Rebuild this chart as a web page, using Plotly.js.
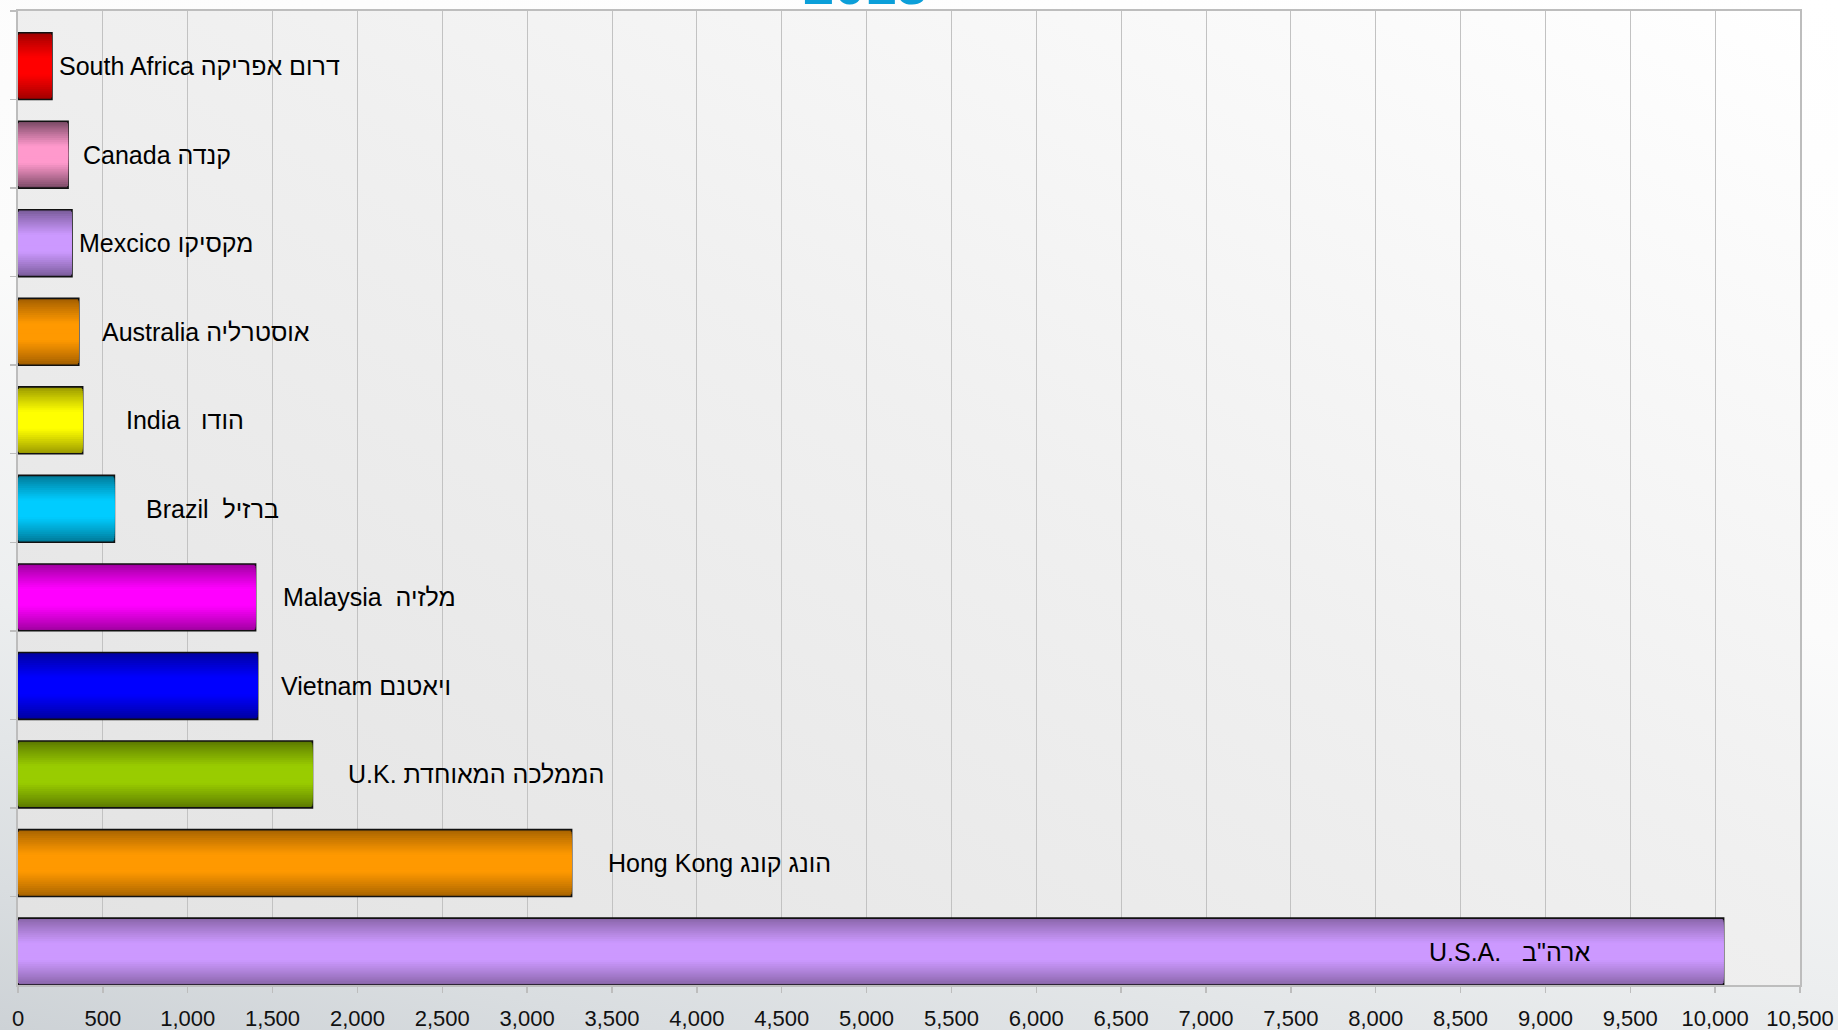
<!DOCTYPE html>
<html>
<head>
<meta charset="utf-8">
<script src="https://cdn.plot.ly/plotly-3.0.1.min.js"></script>
<style>
  html, body { margin: 0; padding: 0; }
  #chart {
    width: 1838px; height: 1030px;
    background: linear-gradient(12deg, #cdd2d6 0%, #d9dde0 10%, #eceeef 30%, #fbfbfb 55%, #ffffff 100%);
  }
</style>
</head>
<body>
<div id="chart"></div>
<script>
// ---- data ----
const titleText = '2013';
const categories = ['South Africa', 'Canada', 'Mexcico', 'Australia', 'India', 'Brazil',
                    'Malaysia', 'Vietnam', 'U.K.', 'Hong Kong', 'U.S.A.'];
const values = [200, 295, 318, 358, 381, 568, 1400, 1412, 1735, 3262, 10050];
const labels = [
  'South Africa דרום אפריקה',
  'Canada קנדה',
  'Mexcico מקסיקו',
  'Australia אוסטרליה',
  'India\u00a0\u00a0\u00a0הודו',
  'Brazil\u00a0\u00a0ברזיל',
  'Malaysia\u00a0\u00a0מלזיה',
  'Vietnam ויאטנם',
  'U.K. הממלכה המאוחדת',
  'Hong Kong הונג קונג',
  'U.S.A.\u00a0\u00a0\u00a0ארה"ב'
];
const tickVals = [0,500,1000,1500,2000,2500,3000,3500,4000,4500,5000,5500,6000,6500,7000,7500,8000,8500,9000,9500,10000,10500];

// ---- styles ----
const midColors  = ['#ff0000','#ff99cc','#cc99ff','#ff9900','#ffff00','#00ccff','#ff00ff','#0000ff','#99cc00','#ff9900','#cc99ff'];
const edgeColors = ['#a00000','#7a4a66','#7a5c9a','#a35f00','#9a9a00','#007a99','#a000a0','#0000a0','#5c7a00','#a86400','#8a66aa'];
const labelShift = [5, 13, 5, 21, 41, 30, 25, 21, 34, 34, -132];
const labelInside = [false,false,false,false,false,false,false,false,false,false,true];

function hex2rgb(h){ return [parseInt(h.slice(1,3),16), parseInt(h.slice(3,5),16), parseInt(h.slice(5,7),16)]; }
function mix(a, b, t){
  const A = hex2rgb(a), B = hex2rgb(b);
  return 'rgb(' + A.map((v,i)=>Math.round(v + (B[i]-v)*t)).join(',') + ')';
}

const margin = { l: 18, r: 38, t: 11, b: 45 };
const H = 1030;
const W = 0.755;            // bar thickness (category units)
const barCenterOff = 0.5 - W / 2;  // bars sit at the bottom of each category slot
const N = 16;
const traces = [];
for (let k = 0; k < N; k++) {
  const t = Math.min(1, Math.pow(k / (N * 0.72), 0.9));
  const wk = W * (1 - k / N);
  traces.push({
    type: 'bar',
    orientation: 'h',
    y: categories,
    x: values,
    width: wk,
    offset: barCenterOff - wk / 2,
    marker: {
      color: categories.map((c, i) => mix(edgeColors[i], midColors[i], t)),
      line: { color: k === 0 ? '#111111' : 'rgba(0,0,0,0)', width: k === 0 ? 1.6 : 0 }
    },
    hoverinfo: 'skip',
    showlegend: false
  });
}

const slotPx = (H - margin.t - margin.b) / categories.length;
const annotations = categories.map((c, i) => ({
  x: values[i], y: c, xref: 'x', yref: 'y',
  text: labels[i],
  showarrow: false,
  xanchor: labelInside[i] ? 'right' : 'left',
  yanchor: 'middle',
  xshift: labelShift[i],
  yshift: -barCenterOff * slotPx,
  font: { family: 'Liberation Sans, Arial, sans-serif', size: 25, color: '#000000' }
}));
annotations.push({
  text: '<b>' + titleText + '</b>',
  xref: 'paper', yref: 'paper', x: 0.4755, y: 1,
  xanchor: 'center', yanchor: 'bottom', yshift: -7,
  showarrow: false,
  font: { family: 'Liberation Sans, Arial, sans-serif', size: 56, color: '#0b9fd9' }
});

const plotBg = "data:image/svg+xml;charset=utf-8," + encodeURIComponent(
  "<svg xmlns='http://www.w3.org/2000/svg' width='200' height='100' viewBox='0 0 200 100' preserveAspectRatio='none'>" +
  "<defs><linearGradient id='g' x1='0' y1='1' x2='1' y2='0'>" +
  "<stop offset='0' stop-color='#e2e2e2'/><stop offset='0.55' stop-color='#f0f0f0'/><stop offset='1' stop-color='#ffffff'/>" +
  "</linearGradient></defs><rect width='200' height='100' fill='url(#g)'/></svg>");

const layout = {
  width: 1838, height: H,
  margin: margin,
  paper_bgcolor: 'rgba(0,0,0,0)',
  plot_bgcolor: 'rgba(0,0,0,0)',
  barmode: 'overlay',
  font: { family: 'Liberation Sans, Arial, sans-serif', size: 22, color: '#000000' },
  xaxis: {
    range: [0, 10500],
    tickvals: tickVals,
    tickformat: ',d',
    automargin: false,
    showgrid: true, gridcolor: '#c2c2c2', gridwidth: 1,
    zeroline: false,
    showline: true, linecolor: '#bdbdbd', linewidth: 2, mirror: true,
    ticks: 'outside', ticklen: 6, tickcolor: '#bdbdbd', tickwidth: 1.5,
    ticklabelstandoff: 7,
    tickfont: { family: 'Liberation Sans, Arial, sans-serif', size: 22, color: '#111111' },
    fixedrange: true
  },
  yaxis: {
    type: 'category',
    categoryorder: 'array', categoryarray: categories,
    autorange: 'reversed',
    automargin: false,
    showticklabels: false,
    showgrid: false, zeroline: false,
    showline: true, linecolor: '#bdbdbd', linewidth: 2, mirror: true,
    ticks: 'outside', tickson: 'boundaries', ticklen: 6, tickcolor: '#bdbdbd', tickwidth: 1.5,
    fixedrange: true
  },
  images: [{
    source: plotBg, xref: 'paper', yref: 'paper', x: 0, y: 1, sizex: 1, sizey: 1,
    xanchor: 'left', yanchor: 'top', sizing: 'stretch', layer: 'below'
  }],
  annotations: annotations
};

Plotly.newPlot('chart', traces, layout, { staticPlot: true, displayModeBar: false });
</script>
</body>
</html>
